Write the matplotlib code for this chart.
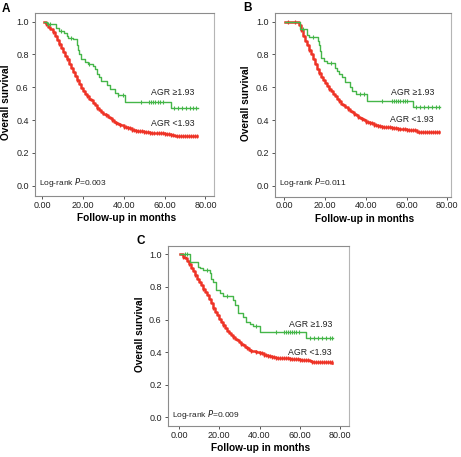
import numpy as np
import matplotlib.pyplot as plt

plt.rcParams['font.family'] = ['Liberation Sans', 'DejaVu Sans']

GREEN = '#45b649'
RED = '#ee3326'

# ---- Panel A ----
a_hi_t = [1, 2.5, 6.5, 8, 10.5, 12, 12.7, 15, 16.8, 17.2, 17.6, 18.2, 19, 21, 22.5, 25,
          26, 26.6, 28, 29, 31.5, 33, 35.6, 37, 40.5, 63.3, 76.4]
a_hi_s = [1.0, 0.985, 0.96, 0.945, 0.93, 0.91, 0.90, 0.893, 0.88, 0.86, 0.83, 0.80, 0.77,
          0.755, 0.74, 0.73, 0.71, 0.68, 0.66, 0.64, 0.615, 0.59, 0.565, 0.555, 0.51, 0.475, 0.475]
a_hi_cens = [3, 4, 9, 14, 23, 37, 39.5, 48.3, 52.5, 53.5, 54.5, 55.5, 56.5, 57.5, 59,
             64.5, 66.5, 68.5, 70.5, 72.5, 74, 75.5]
a_lo_t = [1, 2, 3, 4, 5, 6, 7, 8, 9, 10, 11, 12, 13, 14, 15, 16, 17, 18, 19, 20, 21, 22, 23,
          24, 25, 26, 27, 28, 29, 30, 31, 32, 33, 34, 35, 36, 37, 38, 40, 42, 44, 46, 48,
          50, 53, 56, 60, 63, 65, 76]
a_lo_s = [1.0, 0.985, 0.97, 0.955, 0.935, 0.915, 0.89, 0.865, 0.84, 0.815, 0.79, 0.77, 0.745,
          0.72, 0.695, 0.67, 0.645, 0.62, 0.597, 0.575, 0.56, 0.545, 0.53, 0.52, 0.505, 0.49,
          0.475, 0.462, 0.45, 0.44, 0.43, 0.42, 0.41, 0.40, 0.39, 0.383, 0.375, 0.37, 0.36,
          0.35, 0.342, 0.336, 0.332, 0.328, 0.323, 0.32, 0.315, 0.31, 0.302, 0.30]

# ---- Panel B ----
b_hi_t = [0.5, 6.1, 7.7, 11, 12, 16.3, 17, 17.5, 18, 19.5, 21, 25, 26, 27, 28.5, 30, 32, 33,
          35, 36.5, 40.4, 63.3, 76.4]
b_hi_s = [1.0, 1.0, 0.954, 0.92, 0.907, 0.88, 0.86, 0.82, 0.78, 0.76, 0.746, 0.72, 0.70,
          0.68, 0.66, 0.63, 0.60, 0.58, 0.56, 0.557, 0.518, 0.48, 0.48]
b_hi_cens = [9, 14, 23, 37, 39, 48, 53, 54, 55, 56, 57, 58, 59, 60,
             64.5, 66.5, 68.5, 70.5, 72.5, 74.5, 76]
b_lo_t = [0.5, 6, 7, 8, 9, 10, 11, 12, 13, 14, 15, 16, 17, 18, 19, 20, 21, 22, 23, 24, 25,
          26, 27, 28, 29, 30, 31, 32, 33, 34, 35, 36, 37, 38, 39, 40, 42, 44, 46, 48, 50,
          53, 56, 60, 63, 65, 76]
b_lo_s = [1.0, 1.0, 0.98, 0.95, 0.915, 0.885, 0.855, 0.825, 0.80, 0.77, 0.74, 0.71, 0.685,
          0.665, 0.645, 0.625, 0.605, 0.59, 0.575, 0.56, 0.545, 0.53, 0.515, 0.50, 0.49,
          0.478, 0.468, 0.457, 0.447, 0.437, 0.428, 0.42, 0.412, 0.405, 0.398, 0.39, 0.38,
          0.37, 0.363, 0.358, 0.355, 0.35, 0.346, 0.342, 0.338, 0.33, 0.325]

# ---- Panel C ----
c_hi_t = [0.5, 5.4, 9.6, 10.4, 12, 15.3, 16, 17, 18.3, 20.3, 21.9, 26.8, 27.7, 29.4, 31.8,
          33.5, 35.1, 37, 40.1, 63.2, 76.4]
c_hi_s = [1.0, 0.955, 0.924, 0.914, 0.904, 0.884, 0.85, 0.833, 0.782, 0.76, 0.746, 0.72,
          0.689, 0.638, 0.618, 0.587, 0.57, 0.562, 0.521, 0.485, 0.485]
c_hi_cens = [3, 4, 14, 24, 38, 48, 52, 53, 54, 55, 56, 57, 58, 59.5,
             65, 67, 69, 71, 73, 75, 76]
c_lo_t = [0.5, 2, 3, 4, 5, 6, 7, 8, 9, 10, 11, 12, 13, 14, 15, 16, 17, 18, 19, 20, 21, 22,
          23, 24, 25, 26, 27, 28, 29, 30, 31, 32, 33, 34, 35, 36, 38, 40, 42, 44, 46, 48,
          51, 55, 60, 65, 66, 76]
c_lo_s = [1.0, 0.985, 0.975, 0.96, 0.94, 0.915, 0.895, 0.875, 0.85, 0.83, 0.81, 0.79, 0.77,
          0.75, 0.725, 0.70, 0.67, 0.645, 0.625, 0.605, 0.585, 0.565, 0.548, 0.532, 0.518,
          0.505, 0.493, 0.482, 0.472, 0.462, 0.452, 0.442, 0.432, 0.423, 0.415, 0.41, 0.40,
          0.392, 0.385, 0.378, 0.372, 0.367, 0.362, 0.358, 0.354, 0.348, 0.338, 0.336]

# censor marks on the low-AGR curves (dense in the tail)
lo_cens = [2, 5, 8, 12, 17, 22, 27, 31, 34, 36, 38, 40, 41, 42, 43, 44, 45, 46, 47, 48, 49,
           50, 51, 52, 53, 54, 55, 56, 57, 58, 59, 60, 61, 62, 63, 64, 66, 67, 68, 69, 70,
           71, 72, 73, 74, 75, 75.8]

pvals = ['0.003', '0.011', '0.009']
yticks = [0.0, 0.2, 0.4, 0.6, 0.8, 1.0]
xticks = [0, 20, 40, 60, 80]


def surv_at(t, s, c):
    idx = np.searchsorted(np.array(t), np.array(c), side='right') - 1
    return np.array(s)[np.clip(idx, 0, len(s) - 1)]


def km_panel(ax, hi_t, hi_s, hi_c, lo_t, lo_s, pval, xlim, ylim, lab_hi, lab_lo, xlab_y, ylab_x):
    ax.plot(lo_t, lo_s, drawstyle='steps-post', color=RED, lw=1.8, zorder=3)
    ax.plot(lo_cens, surv_at(lo_t, lo_s, lo_cens), ls='none', marker='|', ms=3,
            mew=0.9, color=RED, zorder=3)
    ax.plot(hi_t, hi_s, drawstyle='steps-post', color=GREEN, lw=1.0, zorder=4)
    ax.plot(hi_c, surv_at(hi_t, hi_s, hi_c), ls='none', marker='|', ms=3,
            mew=0.8, color=GREEN, zorder=4)

    ax.set_xlim(*xlim)
    ax.set_ylim(*ylim)
    ax.set_xticks(xticks)
    ax.set_xticklabels([f'{v:.2f}' for v in xticks])
    ax.set_yticks(yticks)
    ax.set_yticklabels([f'{v:.1f}' for v in yticks])
    ax.tick_params(labelsize=6.5, length=2.5, width=0.7, color='#555555',
                   labelcolor='#222222')
    ax.tick_params(axis='x', pad=1)
    ax.tick_params(axis='y', pad=2)
    for sp in ax.spines.values():
        sp.set_color('#8c8c8c')
        sp.set_linewidth(0.8)
    ax.spines['right'].set_color('#b5b5b5')

    ax.text(lab_hi[0], lab_hi[1], 'AGR \u22651.93', fontsize=6.3, ha='right', va='center',
            color='#222222')
    ax.text(lab_lo[0], lab_lo[1], 'AGR <1.93', fontsize=6.3, ha='right', va='center',
            color='#222222')
    ax.text(xlim[0] + 2.1, 0.02, f'Log-rank $\\it{{P}}$={pval}', fontsize=6,
            ha='left', va='center', color='#222222')

    ax.set_xlabel('Follow-up in months', fontsize=7.3, fontweight='bold')
    ax.set_ylabel('Overall survival', fontsize=7.3, fontweight='bold')
    ax.xaxis.set_label_coords(0.51, xlab_y)
    ax.yaxis.set_label_coords(ylab_x, 0.51)


fig = plt.figure(figsize=(4.61, 4.57), dpi=100)

ax_a = fig.add_axes([0.0759, 1 - 196 / 457, 0.3883, 183 / 457])
km_panel(ax_a, a_hi_t, a_hi_s, a_hi_cens, a_lo_t, a_lo_s, pvals[0], (-3.6, 84.2),
         (-0.063, 1.053), (74.5, 0.567), (74.5, 0.38), -0.093, -0.135)

ax_b = fig.add_axes([0.5965, 1 - 196.5 / 457, 0.3818, 183.5 / 457])
km_panel(ax_b, b_hi_t, b_hi_s, b_hi_cens, b_lo_t, b_lo_s, pvals[1], (-4.6, 81.8),
         (-0.066, 1.053), (73.5, 0.567), (73.5, 0.405), -0.093, -0.135)

ax_c = fig.add_axes([0.3644, 1 - 426 / 457, 0.3937, 180.3 / 457])
km_panel(ax_c, c_hi_t, c_hi_s, c_hi_cens, c_lo_t, c_lo_s, pvals[2], (-5.4, 84.6),
         (-0.053, 1.053), (75.9, 0.572), (75.9, 0.40), -0.094, -0.125)

fig.text(6 / 461, 1 - 8.5 / 457, 'A', fontsize=8.5, fontweight='bold', ha='center', va='center')
fig.text(247 / 461, 1 - 8 / 457, 'B', fontsize=8.5, fontweight='bold', ha='center', va='center')
fig.text(140.5 / 461, 1 - 241.5 / 457, 'C', fontsize=8.5, fontweight='bold', ha='center',
         va='center')

fig.savefig('out.png', dpi=100)
